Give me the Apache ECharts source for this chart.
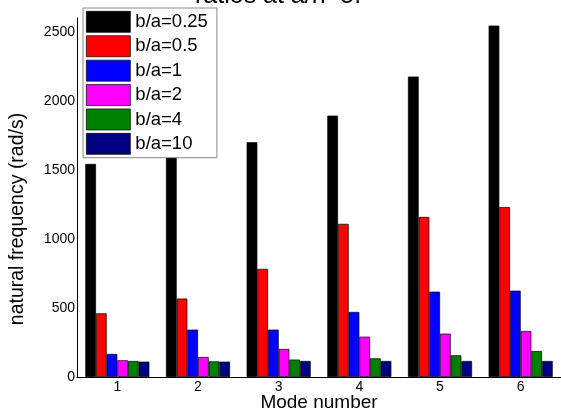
<!DOCTYPE html>
<html>
<head>
<meta charset="utf-8">
<script src="https://cdn.jsdelivr.net/npm/echarts@6/dist/echarts.min.js"></script>
<style>
  html, body { margin: 0; padding: 0; background: #fff; }
  #main { width: 561px; height: 413px; }
</style>
</head>
<body>
<div id="main"></div>
<script>
  // data
  const modes = ['1', '2', '3', '4', '5', '6'];
  const names = ['b/a=0.25', 'b/a=0.5', 'b/a=1', 'b/a=2', 'b/a=4', 'b/a=10'];
  const colors = ['#000000', '#ff0000', '#0000ff', '#ff00ff', '#008000', '#000080'];
  const ba025 = [1543, 1592, 1700, 1893, 2176, 2545];
  const ba05 = [461, 568, 783, 1109, 1159, 1230];
  const ba1 = [167, 343, 343, 471, 618, 625];
  const ba2 = [121, 145, 203, 292, 314, 333];
  const ba4 = [116, 113, 126, 135, 157, 188];
  const ba10 = [111, 111, 116, 116, 116, 116];
  const values = [ba025, ba05, ba1, ba2, ba4, ba10];

  const font = 'Liberation Sans, Arial, sans-serif';
  let chart = echarts.init(document.getElementById('main'));
  let option = {
    animation: false,
    title: {
      text: 'ratios at a/h=5.',
      left: 190,
      top: -21,
      textStyle: { fontFamily: font, fontSize: 25, fontWeight: 'normal', color: '#000' }
    },
    // y axis title, drawn by hand so it can sit a bit below the axis centre like the original
    graphic: [{
      type: 'text',
      x: 18,
      y: 219,
      rotation: Math.PI / 2,
      style: {
        text: 'natural frequency (rad/s)',
        fontFamily: font,
        fontSize: 19.5,
        fill: '#000',
        align: 'center',
        verticalAlign: 'middle'
      }
    }],
    legend: {
      orient: 'vertical',
      left: 83,
      top: 8,
      data: names,
      icon: 'rect',
      itemWidth: 44,
      itemHeight: 21,
      itemGap: 2.7,
      padding: [3, 9, 3, 3],
      backgroundColor: '#fff',
      borderColor: '#888',
      borderWidth: 1,
      itemStyle: { borderColor: '#000', borderWidth: 0.7 },
      textStyle: { fontFamily: font, fontSize: 18.5, color: '#000' }
    },
    grid: { left: 77, right: 0, top: 18, bottom: 36, outerBoundsMode: 'none' },
    xAxis: {
      type: 'category',
      data: modes,
      name: 'Mode number',
      nameLocation: 'middle',
      nameGap: 16,
      nameMoveOverlap: false,
      nameTextStyle: { fontFamily: font, fontSize: 19, color: '#000', verticalAlign: 'top' },
      axisLine: { lineStyle: { color: '#000', width: 1 } },
      axisTick: { show: false },
      axisLabel: { fontFamily: font, fontSize: 14, color: '#000', margin: 3 }
    },
    yAxis: {
      type: 'value',
      min: 0,
      max: 2600,
      interval: 500,
      axisLine: { show: true, lineStyle: { color: '#000', width: 1 } },
      axisTick: { show: false },
      splitLine: { show: false },
      axisLabel: {
        fontFamily: font, fontSize: 14, color: '#000', margin: 2, showMaxLabel: false,
        formatter: v => String(v)
      }
    },
    series: names.map((n, i) => ({
      name: n,
      type: 'bar',
      data: values[i],
      barGap: '0%',
      barCategoryGap: '20.6%',
      itemStyle: { color: colors[i], borderColor: '#000', borderWidth: 0.7 }
    }))
  };
  chart.setOption(option);
</script>
</body>
</html>
